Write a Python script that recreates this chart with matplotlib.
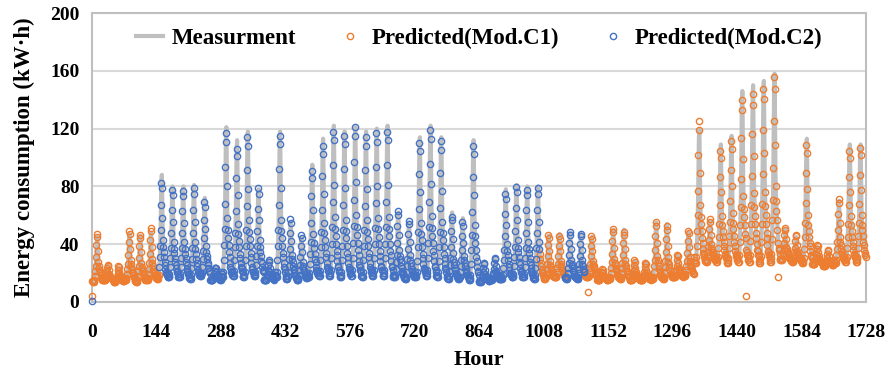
import numpy as np
import matplotlib
matplotlib.use("Agg")
import matplotlib.pyplot as plt

plt.rcParams['font.family'] = ['Liberation Serif', 'DejaVu Serif']
plt.rcParams['font.weight'] = 'bold'

# daily peak / night base of measured load (kW.h), 72 days = 1728 h
peak = [45, 25, 24, 47, 46, 48, 88, 80, 80, 81, 72, 25,
        121, 112, 118, 78, 30, 118, 55, 45, 95, 113, 122, 118,
        121, 118, 120, 122, 62, 55, 114, 122, 114, 62, 58, 112,
        28, 30, 78, 81, 80, 80, 46, 47, 48, 47, 45, 22,
        50, 50, 28, 28, 55, 54, 32, 48, 119, 56, 109, 115,
        146, 150, 153, 158, 50, 45, 113, 38, 35, 70, 109, 109]
base = [14, 15, 14, 15, 14, 15, 16, 17, 17, 16, 18, 15,
        17, 18, 17, 18, 15, 17, 16, 15, 17, 18, 18, 17,
        18, 17, 18, 18, 17, 16, 17, 18, 17, 16, 16, 15,
        14, 15, 16, 17, 17, 16, 16, 17, 16, 16, 17, 15,
        16, 16, 15, 15, 16, 16, 17, 18, 27, 28, 28, 27,
        28, 28, 27, 28, 29, 28, 27, 26, 25, 27, 28, 28]
# predicted daily peaks (circles)
pred_peak = [48, 26, 25, 50, 47, 52, 84, 79, 78, 80, 70, 24,
             119, 108, 116, 80, 29, 117, 58, 47, 92, 110, 120, 117,
             123, 116, 119, 120, 64, 57, 112, 121, 113, 60, 56, 110,
             27, 31, 76, 81, 79, 80, 47, 46, 49, 48, 46, 23,
             51, 49, 29, 27, 56, 53, 33, 50, 127, 58, 106, 113,
             142, 146, 150, 158, 52, 47, 110, 40, 36, 72, 106, 108]

# typical hourly shape of one day (0 = night base, 1 = daily peak)
profile = [0.02, 0.0, 0.0, 0.0, 0.02, 0.05, 0.1, 0.18, 0.3, 0.45, 0.7, 0.95,
           1.0, 0.7, 0.45, 0.35, 0.3, 0.25, 0.2, 0.15, 0.12, 0.08, 0.05, 0.03]
pred_profile = [0.04, 0.01, 0.0, 0.02, 0.0, 0.04, 0.12, 0.22, 0.33, 0.5, 0.75, 0.98,
                0.92, 0.62, 0.4, 0.32, 0.27, 0.22, 0.17, 0.14, 0.1, 0.07, 0.06, 0.04]

# which hours are shown as Mod.C2 (blue); the rest Mod.C1 (orange)
c2_start = [150, 1056]
c2_end = [1000, 1100]

# stray predicted points
c1_out_hours = [0, 1107, 1460, 1531]
c1_out_vals = [4, 7, 4, 17]
c2_out_hours = [0]
c2_out_vals = [1]

hours = np.arange(24 * len(peak))
meas = np.concatenate([b + (p - b) * np.array(profile) for p, b in zip(peak, base)])
pred = np.concatenate([b + (p - b) * np.array(pred_profile) for p, b in zip(pred_peak, base)])
pred[c1_out_hours] = c1_out_vals

is_c2 = np.zeros(len(hours), dtype=bool)
for s, e in zip(c2_start, c2_end):
    is_c2[(hours >= s) & (hours < e)] = True

fig = plt.figure(figsize=(8.93, 3.74), dpi=100)
ax = fig.add_axes([92 / 893, 72 / 374, 774 / 893, 289 / 374])

ax.plot(hours, meas, color='#BFBFBF', lw=3, label='Measurment', zorder=2)
ax.plot(hours[~is_c2], pred[~is_c2], 'o', ms=4.5, mfc='none', mec='#ED7D31', mew=1,
        label='Predicted(Mod.C1)', zorder=3, clip_on=False)
ax.plot(np.r_[c2_out_hours, hours[is_c2]], np.r_[c2_out_vals, pred[is_c2]], 'o', ms=4.5,
        mfc='none', mec='#4472C4', mew=1, label='Predicted(Mod.C2)', zorder=4, clip_on=False)

ax.set_xlim(0, 1728)
ax.set_ylim(0, 200)
ax.set_xticks(np.arange(0, 1729, 144))
ax.set_yticks(np.arange(0, 201, 40))
ax.tick_params(length=0, labelsize=14)
ax.tick_params(axis='x', pad=16)
ax.tick_params(axis='y', pad=9)
ax.grid(axis='y', color='#D9D9D9', lw=1.5)
ax.set_axisbelow(True)
for s in ax.spines.values():
    s.set_color('#BFBFBF')
    s.set_linewidth(1.5)

ax.set_xlabel('Hour', fontsize=16, fontweight='bold', labelpad=6)
ax.set_ylabel('Energy consumption (kW·h)', fontsize=16.5, fontweight='bold', labelpad=11)

leg = ax.legend(loc='center', bbox_to_anchor=(0.5, 0.913), ncol=3, frameon=False,
                fontsize=16.5, handlelength=1.2, columnspacing=1.75, handletextpad=0.35)
for t in leg.get_texts():
    t.set_fontweight('bold')

fig.savefig('out.png', dpi=100)
